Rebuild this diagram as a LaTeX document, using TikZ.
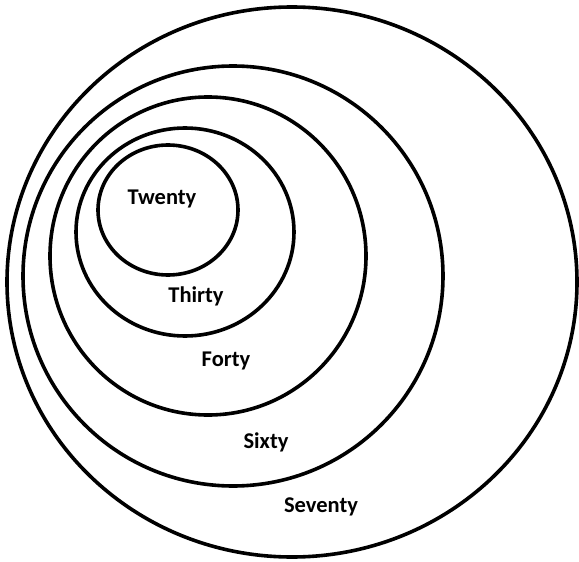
\documentclass[tikz,border=0pt]{standalone}
\usepackage{fontspec}
\setsansfont{Carlito}
\usepackage{tikz}

\tikzset{
  ring/.style={draw=black, line width=3.6pt},
  agelabel/.style={font=\sffamily\bfseries\fontsize{22.5}{27}\selectfont, inner sep=0pt}
}

\begin{document}
\begin{tikzpicture}[x=1pt, y=-1pt]
    \useasboundingbox (0,0) rectangle (579,562);
    % rings, outer to inner
    \draw[ring] (292,282) ellipse [x radius=285pt, y radius=275pt];
    \draw[ring] (233,276) ellipse [x radius=210pt, y radius=210pt];
    \draw[ring] (208,256) ellipse [x radius=158pt, y radius=159pt];
    \draw[ring] (185,232) ellipse [x radius=109pt, y radius=104pt];
    \draw[ring] (168,210) ellipse [x radius=70pt, y radius=65pt];
    % labels
    \node[agelabel] (twenty)  at (162,199) {Twenty};
    \node[agelabel] (thirty)  at (196,296) {Thirty};
    \node[agelabel] (forty)   at (226,361) {Forty};
    \node[agelabel] (sixty)   at (266,442) {Sixty};
    \node[agelabel] (seventy) at (321,507) {Seventy};
\end{tikzpicture}
\end{document}
